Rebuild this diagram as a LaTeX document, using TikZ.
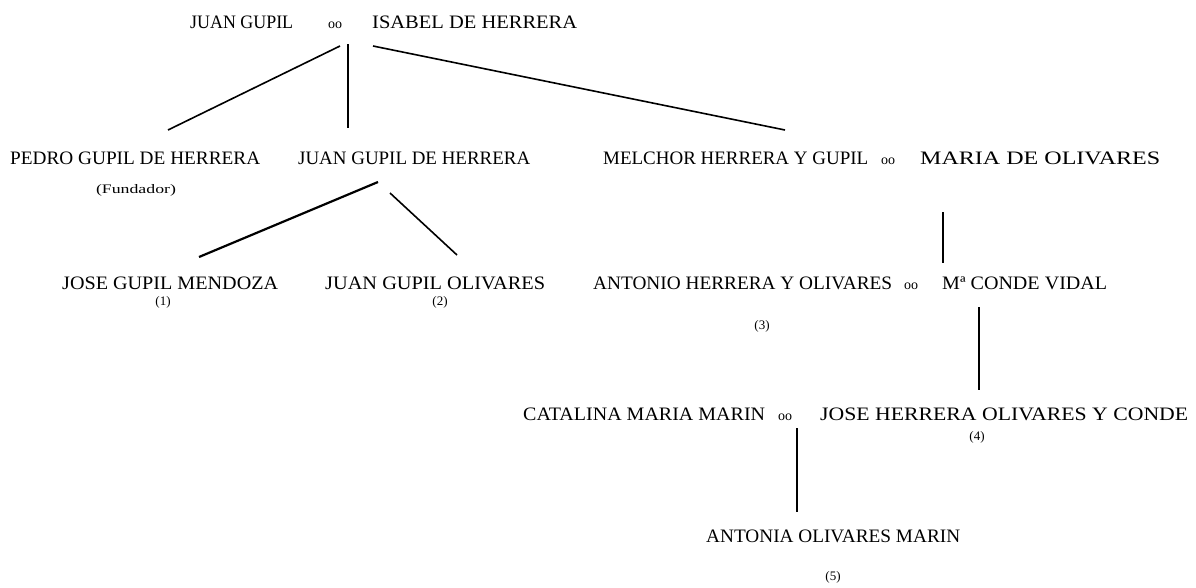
\documentclass[tikz,border=0pt]{standalone}
\usepackage{graphicx}
\usepackage{fontspec}
\setmainfont{Liberation Serif}
\newcommand\fitw[2]{\resizebox{#1pt}{\height}{#2}}
\begin{document}
\begin{tikzpicture}[x=1pt,y=-1pt,
  nm/.style={anchor=west,inner sep=0pt,font=\fontsize{19}{21}\selectfont},
  mar/.style={inner sep=0pt,font=\fontsize{14}{15}\selectfont},
  lab/.style={inner sep=0pt,font=\fontsize{13}{15}\selectfont},
  ln/.style={line width=1.6pt}]
\useasboundingbox (0,0) rectangle (1196,587);
% row 1
\node[nm] (jg) at (190,22) {\fitw{103}{JUAN GUPIL}};
\node[mar] (m1) at (335,25) {oo};
\node[nm] (ih) at (372,22) {\fitw{205}{ISABEL DE HERRERA}};
\coordinate (t1) at (340,46);
\coordinate (t2) at (348,44);
\coordinate (t3) at (373,46);
% row 2
\node[nm] (pg) at (10,158) {\fitw{250}{PEDRO GUPIL DE HERRERA}};
\node[lab] (fu) at (136,190) {\fitw{80}{(Fundador)}};
\node[nm] (jh) at (298,158) {\fitw{232}{JUAN GUPIL DE HERRERA}};
\node[nm] (mh) at (603,158) {\fitw{265}{MELCHOR HERRERA Y GUPIL}};
\node[mar] (m2) at (888,161) {oo};
\node[nm] (mo) at (920,158) {\fitw{240}{MARIA DE OLIVARES}};
\coordinate (p1) at (168,130);
\coordinate (p2) at (348,128);
\coordinate (p3) at (785,130);
\coordinate (h1) at (378,182);
\coordinate (h2) at (390,193);
\coordinate (mtop) at (943,212);
% row 3
\node[nm] (jm) at (62,283) {\fitw{216}{JOSE GUPIL MENDOZA}};
\node[lab] (l1) at (163,302) {(1)};
\node[nm] (jo) at (325,283) {\fitw{220}{JUAN GUPIL OLIVARES}};
\node[lab] (l2) at (440,302) {(2)};
\node[nm] (ah) at (593,283) {\fitw{299}{ANTONIO HERRERA Y OLIVARES}};
\node[mar] (m3) at (911,286) {oo};
\node[nm] (cv) at (942,283) {\fitw{165}{Mª CONDE VIDAL}};
\node[lab] (l3) at (762,326) {(3)};
\coordinate (j1) at (199,257);
\coordinate (j2) at (457,255);
\coordinate (abot) at (943,263);
\coordinate (atop) at (979,307);
% row 4
\node[nm] (cm) at (523,414) {\fitw{242}{CATALINA MARIA MARIN}};
\node[mar] (m4) at (785,417) {oo};
\node[nm] (jc) at (820,414) {\fitw{368}{JOSE HERRERA OLIVARES Y CONDE}};
\node[lab] (l4) at (977,437) {(4)};
\coordinate (cbot) at (979,390);
\coordinate (ctop) at (797,428);
% row 5
\node[nm] (an) at (706,536) {\fitw{254}{ANTONIA OLIVARES MARIN}};
\node[lab] (l5) at (833,577) {(5)};
\coordinate (nbot) at (797,512);
% connectors
\draw[ln] (t1) -- (p1);
\draw[ln] (t2) -- (p2);
\draw[ln] (t3) -- (p3);
\draw[ln,line width=2.2pt] (h1) -- (j1);
\draw[ln] (h2) -- (j2);
\draw[ln] (mtop) -- (abot);
\draw[ln] (atop) -- (cbot);
\draw[ln] (ctop) -- (nbot);
\end{tikzpicture}
\end{document}
